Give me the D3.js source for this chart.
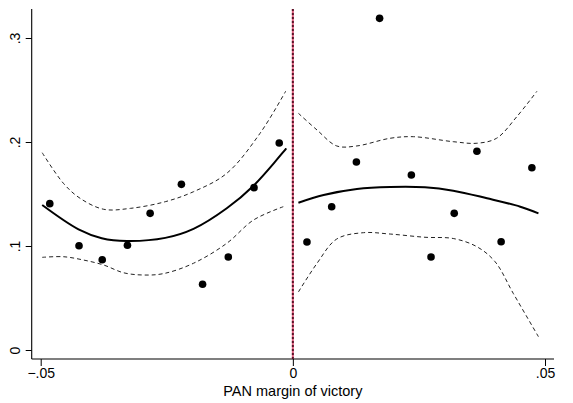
<!DOCTYPE html>
<html><head><meta charset="utf-8">
<script src="https://cdn.jsdelivr.net/npm/d3@7/dist/d3.min.js"></script>
<style>body{margin:0;background:#fff}svg{display:block}text{font-family:"Liberation Sans",Arial,sans-serif;fill:#000}</style>
</head><body>
<script>
// Scatter bins
const leftX = [-0.0482,-0.0424,-0.0378,-0.0328,-0.0283,-0.0221,-0.0179,-0.0128,-0.0077,-0.0027];
const leftY = [0.1407,0.1003,0.0868,0.1007,0.1314,0.1593,0.0632,0.0894,0.1561,0.1990];
const rightX = [0.0028,0.0077,0.0126,0.0172,0.0235,0.0274,0.0320,0.0365,0.0413,0.0474];
const rightY = [0.1038,0.1378,0.1808,0.3189,0.1683,0.0894,0.1314,0.1911,0.1041,0.1753];

// Fitted curves (left of cutoff)
const fitLX = [-0.0497,-0.0425,-0.0379,-0.0329,-0.0253,-0.0197,-0.0131,-0.0078,-0.0013];
const fitLY = [0.1394,0.1160,0.1075,0.1048,0.1078,0.1165,0.1363,0.1580,0.1939];
const upLX = [-0.0497,-0.0455,-0.0422,-0.0375,-0.0322,-0.0253,-0.0197,-0.0131,-0.0065,-0.0014];
const upLY = [0.1897,0.1603,0.1459,0.1353,0.1362,0.1426,0.1522,0.1699,0.2084,0.2490];
const loLX = [-0.0497,-0.0455,-0.0415,-0.0375,-0.0336,-0.0296,-0.0256,-0.0197,-0.0131,-0.0078,-0.0019];
const loLY = [0.0891,0.0897,0.0865,0.0817,0.0743,0.0721,0.0735,0.0834,0.1026,0.1250,0.1378];

// Fitted curves (right of cutoff)
const fitRX = [0.0011,0.0061,0.0127,0.0193,0.0262,0.0318,0.0385,0.0451,0.0487];
const fitRY = [0.1416,0.1490,0.1548,0.1567,0.1564,0.1532,0.1459,0.1378,0.1314];
const upRX = [0.0011,0.0048,0.0087,0.0127,0.0193,0.0239,0.0318,0.0365,0.0404,0.0444,0.0484];
const upRY = [0.2276,0.2115,0.1962,0.1962,0.2036,0.2051,0.2003,0.1988,0.2036,0.2243,0.2488];
const loRX = [0.0011,0.0048,0.0087,0.0140,0.0193,0.0262,0.0318,0.0365,0.0401,0.0437,0.0487];
const loRY = [0.0558,0.0834,0.1067,0.1128,0.1115,0.1084,0.1072,0.0993,0.0849,0.0545,0.0128];

const xTicks = [-0.05, 0, 0.05];
const xTickLabels = ["\u2212.05", "0", ".05"];
const yTicks = [0, 0.1, 0.2, 0.3];
const yTickLabels = ["0", ".1", ".2", ".3"];
const xTitle = "PAN margin of victory";
const cutoff = 0;

const W = 573, H = 403;
const svg = d3.select("body").append("svg").attr("width", W).attr("height", H);

const x = d3.scaleLinear().domain([-0.05, 0.05]).range([40.7, 545]);
const y = d3.scaleLinear().domain([0, 0.3]).range([350, 38]);
const plotLeft = 31.7, plotRight = 554, plotTop = 9, plotBottom = 359;

// axes lines
svg.append("line").attr("x1", plotLeft).attr("x2", plotLeft).attr("y1", plotTop).attr("y2", plotBottom)
  .attr("stroke", "#000").attr("stroke-width", 1.1);
svg.append("line").attr("x1", plotLeft).attr("x2", plotRight).attr("y1", plotBottom).attr("y2", plotBottom)
  .attr("stroke", "#000").attr("stroke-width", 1.1);

// x axis
const xAxis = svg.append("g").attr("transform", `translate(0,${plotBottom})`)
  .call(d3.axisBottom(x).tickValues(xTicks).tickSize(7).tickSizeOuter(0).tickFormat((d, i) => xTickLabels[i]));
xAxis.select(".domain").remove();
xAxis.selectAll("line").attr("stroke", "#000");
xAxis.selectAll("text").attr("font-size", 14).attr("font-family", "Liberation Sans, Arial, sans-serif").attr("dy", "0.8em").attr("y", 8);

// y axis
const yAxis = svg.append("g").attr("transform", `translate(${plotLeft},0)`)
  .call(d3.axisLeft(y).tickValues(yTicks).tickSize(6).tickSizeOuter(0).tickFormat((d, i) => yTickLabels[i]));
yAxis.select(".domain").remove();
yAxis.selectAll("line").attr("stroke", "#000");
yAxis.selectAll("text")
  .attr("font-size", 14).attr("font-family", "Liberation Sans, Arial, sans-serif")
  .attr("x", null).attr("dy", null)
  .attr("text-anchor", "middle")
  .attr("transform", "translate(-12,0) rotate(-90)");

// axis title
svg.append("text").attr("x", x(0)).attr("y", 396).attr("text-anchor", "middle")
  .attr("font-size", 14.5).text(xTitle);

// cutoff line
svg.append("line").attr("x1", x(cutoff)).attr("x2", x(cutoff)).attr("y1", plotTop).attr("y2", plotBottom)
  .attr("stroke", "#e0607f").attr("stroke-width", 2);
svg.append("line").attr("x1", x(cutoff)).attr("x2", x(cutoff)).attr("y1", plotTop).attr("y2", plotBottom)
  .attr("stroke", "#5a1428").attr("stroke-width", 2).attr("stroke-dasharray", "2,2");

const line = d3.line().x(d => x(d[0])).y(d => y(d[1])).curve(d3.curveCatmullRom.alpha(0.5));
function draw(xs, ys, dashed) {
  svg.append("path").datum(xs.map((v, i) => [v, ys[i]])).attr("d", line)
    .attr("fill", "none")
    .attr("stroke", dashed ? "#222" : "#000")
    .attr("stroke-width", dashed ? 1 : 2)
    .attr("stroke-dasharray", dashed ? "4,3" : null);
}
draw(upLX, upLY, true);
draw(loLX, loLY, true);
draw(upRX, upRY, true);
draw(loRX, loRY, true);
draw(fitLX, fitLY, false);
draw(fitRX, fitRY, false);

const pts = leftX.map((v, i) => [v, leftY[i]]).concat(rightX.map((v, i) => [v, rightY[i]]));
svg.append("g").selectAll("circle").data(pts).join("circle")
  .attr("cx", d => x(d[0])).attr("cy", d => y(d[1])).attr("r", 3.8).attr("fill", "#000");
</script>
</body></html>
